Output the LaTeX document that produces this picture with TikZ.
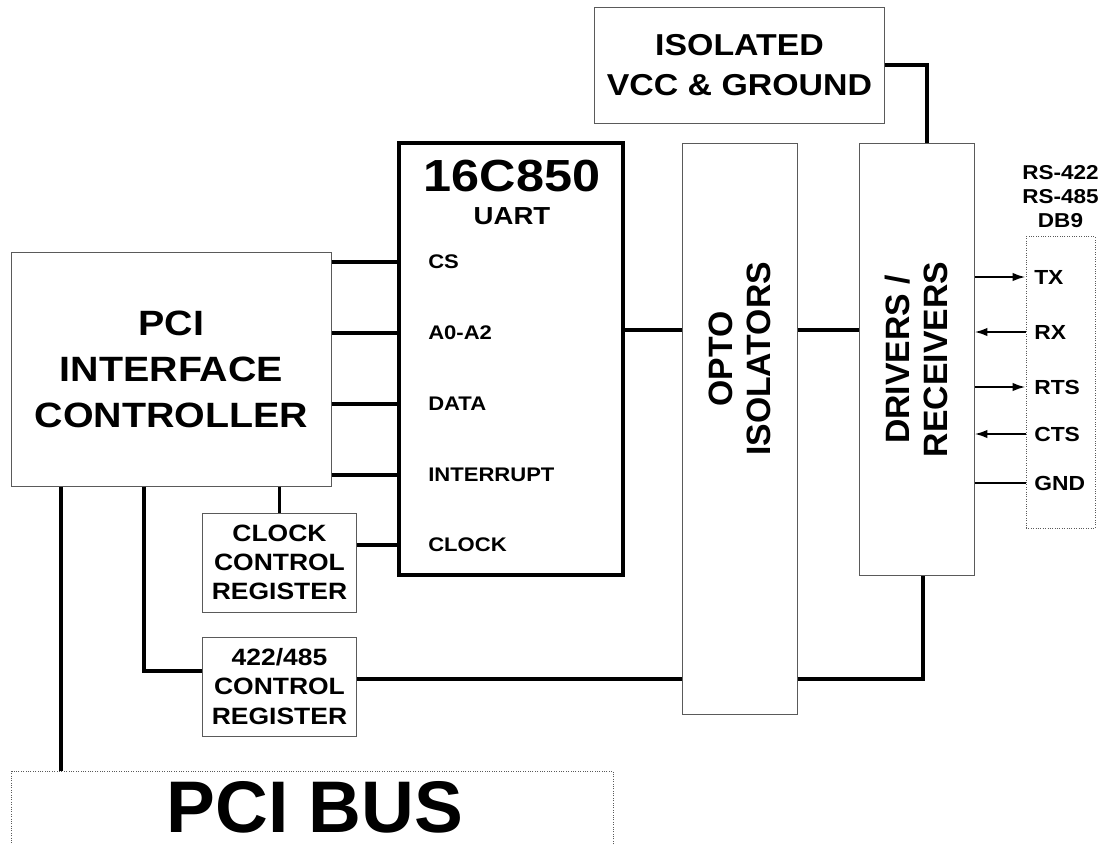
\documentclass[tikz,border=0pt]{standalone}
\usepackage{fontspec}
\setmainfont[FakeStretch=1.12]{Liberation Sans}
\newfontfamily\flatfont{Liberation Sans}
\usepackage{tikz}
\usetikzlibrary{positioning, arrows.meta}
\definecolor{edgecolor}{RGB}{90, 90, 90}

\begin{document}
\begin{tikzpicture}[
	x=0.025cm, y=-0.025cm,
	node distance=0.6cm,
	block/.style={
		rectangle,
		draw=edgecolor,
		line width=0.7pt,
		inner sep=0pt,
		align=center,
		font=\bfseries
	},
	chip/.style={
		block,
		draw=black,
		line width=2.4pt
	},
	plug/.style={
		block,
		densely dotted
	},
	pin/.style={
		anchor=west,
		inner sep=0pt,
		font=\bfseries\fontsize{14}{16}\selectfont
	},
	wire/.style={line width=2.4pt},
	sig/.style={line width=1.5pt},
	drive/.style={-{Latex[length=3.2mm, width=2.1mm]}},
	sense/.style={{Latex[length=3.2mm, width=2.1mm]}-},
	ground/.style={}
	]
	\useasboundingbox (0,0) rectangle (1104,844);
	
	% blocks
	\node[block, minimum width=7.975cm, minimum height=5.825cm,
	font=\bfseries\fontsize{25}{32.7}\selectfont] (pci) at (171.5,369.5)
	{PCI\\INTERFACE\\CONTROLLER};
	
	\node[chip, minimum width=5.6cm, minimum height=10.8cm] (uart) at (511,359) {};
	\node[inner sep=0pt, font=\bfseries\fontsize{32}{36}\selectfont] (uartname) at (512,176) {16C850};
	\node[inner sep=0pt, font=\bfseries\fontsize{17.5}{20}\selectfont, below=0.37cm of uartname] (uarttype) {UART};
	
	\node[block, minimum width=3.825cm, minimum height=2.475cm,
	font=\bfseries\fontsize{16.8}{20.8}\selectfont] (clkreg) at (279.5,562.5)
	{CLOCK\\CONTROL\\REGISTER};
	
	\node[block, minimum width=3.825cm, minimum height=2.475cm,
	font=\bfseries\fontsize{16.8}{20.8}\selectfont, below=of clkreg] (modereg)
	{422/485\\CONTROL\\REGISTER};
	
	\node[block, minimum width=2.875cm, minimum height=14.25cm] (opto) at (739.5,429) {};
	\node[rotate=90, align=center, font=\flatfont\bfseries\fontsize{24}{27}\selectfont] (optotxt) at (739.5,359)
	{OPTO\\ISOLATORS};
	
	\node[block, minimum width=2.875cm, minimum height=10.775cm] (drv) at (916.5,359.5) {};
	\node[rotate=90, align=center, font=\flatfont\bfseries\fontsize{24}{27}\selectfont] (drvtxt) at (drv.center)
	{DRIVERS /\\RECEIVERS};
	
	\node[block, minimum width=7.225cm, minimum height=2.875cm,
	font=\bfseries\fontsize{21.5}{28.5}\selectfont] (vcc) at (739.5,65.5)
	{ISOLATED\\VCC \& GROUND};
	
	\node[plug, minimum width=1.725cm, minimum height=7.275cm] (db9) at (1060.5,382.5) {};
	\node[align=center, inner sep=0pt, font=\bfseries\fontsize{14.3}{17}\selectfont,
	above=0.22cm of db9] (db9name) {RS-422\\RS-485\\DB9};
	
	\node[plug, minimum width=15.025cm, minimum height=2.4cm] (pcibus) at (312.5,819) {};
	\node[inner sep=0pt, font=\flatfont\bfseries\fontsize{52}{56}\selectfont] (pcibustxt) at (315,807) {PCI BUS};
	
	% uart pins
	\foreach \name/\yy/\txt in {cs/262/CS, addr/333/A0-A2, data/404/DATA, irq/475/INTERRUPT, clk/545/CLOCK}
	\node[pin] (p\name) at (428,\yy) {\txt};
	
	\foreach \name in {cs, addr, data, irq}
	\draw[wire] (pci.east |- p\name) -- (uart.west |- p\name);
	
	\draw[wire] (clkreg.east |- pclk) -- (uart.west |- pclk);
	\draw[wire] (pci.south -| clkreg.north) -- (clkreg.north);
	
	% bus side
	\coordinate (bustap) at (61,0);
	\draw[wire] (pci.south -| bustap) -- (pcibus.north -| bustap);
	
	\coordinate (modetap) at (144,671);
	\draw[wire] (pci.south -| modetap) -- (modetap) -- (modereg.west |- modetap);
	
	\coordinate (modeline) at (923,679);
	\draw[wire] (modereg.east |- modeline) -- (opto.west |- modeline);
	\draw[wire] (opto.east |- modeline) -- (modeline) -- (drv.south -| modeline);
	
	% data path
	\coordinate (dataline) at (0,330);
	\draw[wire] (uart.east |- dataline) -- (opto.west |- dataline);
	\draw[wire] (opto.east |- dataline) -- (drv.west |- dataline);
	
	\coordinate (powertap) at (927,65);
	\draw[wire] (vcc.east |- powertap) -- (powertap) -- (drv.north -| powertap);
	
	% connector signals
	\foreach \name/\yy/\dir in {TX/277/drive, RX/332/sense, RTS/387/drive, CTS/434/sense, GND/483/ground}{
		\node[pin, font=\bfseries\fontsize{14.5}{16}\selectfont] (s\name) at (1034,\yy) {\name};
		\draw[sig, \dir] (drv.east |- s\name) -- (db9.west |- s\name);
	}
	
\end{tikzpicture}
\end{document}
